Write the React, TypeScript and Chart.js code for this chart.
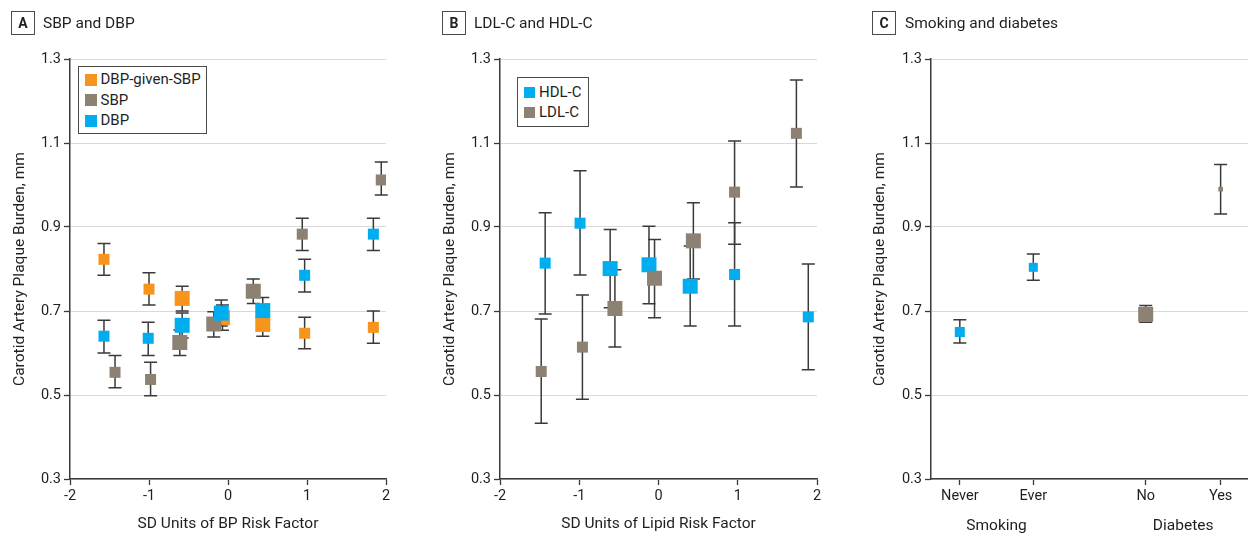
import React, { useEffect, useRef } from "react";
import { Chart, registerables } from "chart.js";

Chart.register(...registerables);

// ---------------- Shared axis values ----------------
const yTicks = [0.3, 0.5, 0.7, 0.9, 1.1, 1.3];
const sdTicks = [-2, -1, 0, 1, 2];
const yTitle = "Carotid Artery Plaque Burden, mm";

// ---------------- Panel A: SBP and DBP ----------------
const seriesNamesA = ["DBP-given-SBP", "SBP", "DBP"];

const dbpGivenSbpX = [-1.57, -1.0, -0.58, -0.07, 0.44, 0.97, 1.84];
const dbpGivenSbpY = [0.823, 0.752, 0.73, 0.684, 0.668, 0.647, 0.661];
const dbpGivenSbpLo = [0.785, 0.714, 0.7, 0.654, 0.64, 0.61, 0.623];
const dbpGivenSbpHi = [0.861, 0.791, 0.759, 0.714, 0.696, 0.685, 0.7];

const sbpX = [-1.43, -0.98, -0.61, -0.18, 0.32, 0.94, 1.94];
const sbpY = [0.554, 0.537, 0.625, 0.669, 0.747, 0.883, 1.012];
const sbpLo = [0.517, 0.498, 0.594, 0.638, 0.718, 0.844, 0.976];
const sbpHi = [0.594, 0.578, 0.655, 0.698, 0.776, 0.921, 1.055];

const dbpX = [-1.57, -1.01, -0.58, -0.085, 0.44, 0.97, 1.84];
const dbpY = [0.64, 0.635, 0.666, 0.695, 0.701, 0.785, 0.883];
const dbpLo = [0.6, 0.594, 0.636, 0.664, 0.67, 0.745, 0.844];
const dbpHi = [0.678, 0.673, 0.695, 0.726, 0.732, 0.823, 0.921];

// ---------------- Panel B: LDL-C and HDL-C ----------------
const seriesNamesB = ["HDL-C", "LDL-C"];

const hdlX = [-1.43, -0.99, -0.61, -0.12, 0.4, 0.96, 1.89];
const hdlY = [0.814, 0.909, 0.801, 0.81, 0.759, 0.787, 0.686];
const hdlLo = [0.693, 0.786, 0.708, 0.717, 0.664, 0.664, 0.56];
const hdlHi = [0.934, 1.034, 0.894, 0.902, 0.855, 0.91, 0.812];

const ldlX = [-1.48, -0.96, -0.55, -0.05, 0.44, 0.96, 1.74];
const ldlY = [0.556, 0.614, 0.706, 0.778, 0.867, 0.983, 1.123];
const ldlLo = [0.433, 0.49, 0.614, 0.684, 0.776, 0.859, 0.995];
const ldlHi = [0.681, 0.738, 0.798, 0.87, 0.958, 1.105, 1.25];

// ---------------- Panel C: Smoking and diabetes ----------------
const smokingLabels = ["Never", "Ever"];
const smokingValues = [0.65, 0.804];
const smokingLo = [0.624, 0.773];
const smokingHi = [0.679, 0.836];

const diabetesLabels = ["No", "Yes"];
const diabetesValues = [0.692, 0.99];
const diabetesLo = [0.673, 0.931];
const diabetesHi = [0.713, 1.049];

const groupLabels = ["Smoking", "Diabetes"];

// ---------------- Styles / layout (not data) ----------------
const FONT = "Roboto, 'Liberation Sans', Arial, sans-serif";
const TEXT = "#1f1f1f";
const AXIS = "#3a3a3a";
const GRID = "#d9d9d9";
const ORANGE = "#F7941D";
const TAUPE = "#8C8172";
const BLUE = "#00AEEF";

const S = 11; // small marker side (px)
const L = 15; // large marker side (px)
const sidesA = [S, S, L, L, L, S, S];
const sidesB = [S, S, L, L, L, S, S];
const sidesSmoking = [10, 9];
const sidesDiabetes = [15, 4.7];

// positions of the categories on panel C's numeric axis
const cCategoryPos = [0.4, 1.42, 2.98, 4.02];
const cGroupPos = [0.91, 3.5];

const errorBarPlugin = {
  id: "errorBars",
  beforeDatasetsDraw(chart: any) {
    const ctx = chart.ctx;
    const ys = chart.scales.y;
    chart.data.datasets.forEach((ds: any, i: number) => {
      if (!ds.errLo) return;
      const meta = chart.getDatasetMeta(i);
      ctx.save();
      ctx.strokeStyle = AXIS;
      ctx.lineWidth = 1.5;
      meta.data.forEach((pt: any, j: number) => {
        const px = pt.x;
        const yl = ys.getPixelForValue(ds.errLo[j]);
        const yh = ys.getPixelForValue(ds.errHi[j]);
        const cap = 6.5;
        ctx.beginPath();
        ctx.moveTo(px, yl);
        ctx.lineTo(px, yh);
        ctx.moveTo(px - cap, yl);
        ctx.lineTo(px + cap, yl);
        ctx.moveTo(px - cap, yh);
        ctx.lineTo(px + cap, yh);
        ctx.stroke();
      });
      ctx.restore();
    });
  },
};

function series(
  label: string,
  xs: number[],
  ys: number[],
  lo: number[],
  hi: number[],
  sides: number[],
  color: string,
  order: number
) {
  const radii = sides.map((s) => s / Math.SQRT2);
  return {
    label,
    data: xs.map((x, i) => ({ x, y: ys[i] })),
    errLo: lo,
    errHi: hi,
    pointStyle: "rect",
    pointRadius: radii,
    pointHoverRadius: radii,
    pointBackgroundColor: color,
    pointBorderColor: color,
    pointBorderWidth: 0,
    backgroundColor: color,
    borderColor: color,
    showLine: false,
    order,
  };
}

function yScale(width: number) {
  return {
    type: "linear",
    min: 0.3,
    max: 1.3,
    afterBuildTicks: (s: any) => {
      s.ticks = yTicks.map((v) => ({ value: v }));
    },
    afterFit: (s: any) => {
      s.width = width;
    },
    ticks: {
      callback: (v: any) => Number(v).toFixed(1),
      padding: 3,
      color: TEXT,
      font: { family: FONT, size: 14.5 },
    },
    grid: {
      color: GRID,
      lineWidth: 1,
      drawTicks: true,
      tickLength: 6,
      tickColor: AXIS,
      tickWidth: 1.3,
    },
    border: { display: true, color: AXIS, width: 1.5 },
    title: {
      display: true,
      text: yTitle,
      color: TEXT,
      font: { family: FONT, size: 15.5 },
      padding: { top: 11, bottom: 0 },
    },
  };
}

function sdXScale(title: string) {
  return {
    type: "linear",
    min: -2,
    max: 2,
    afterBuildTicks: (s: any) => {
      s.ticks = sdTicks.map((v) => ({ value: v }));
    },
    afterFit: (s: any) => {
      s.height = 57;
    },
    ticks: {
      callback: (v: any) => String(v),
      padding: 3,
      autoSkip: false,
      maxRotation: 0,
      color: TEXT,
      font: { family: FONT, size: 14.5 },
    },
    grid: {
      drawOnChartArea: false,
      drawTicks: true,
      tickLength: 6,
      tickColor: AXIS,
      tickWidth: 1.3,
    },
    border: { display: true, color: AXIS, width: 1.5 },
    title: {
      display: true,
      text: title,
      color: TEXT,
      font: { family: FONT, size: 15.5 },
      padding: { top: 0, bottom: 3 },
    },
  };
}

function baseOptions(padRight: number, scales: any) {
  return {
    responsive: false,
    animation: false,
    devicePixelRatio: 1,
    events: [],
    layout: { autoPadding: false, padding: { top: 59, right: padRight, bottom: 0, left: 0 } },
    plugins: { legend: { display: false }, tooltip: { enabled: false } },
    scales,
  };
}

function configA() {
  return {
    type: "scatter",
    data: {
      datasets: [
        series(seriesNamesA[0], dbpGivenSbpX, dbpGivenSbpY, dbpGivenSbpLo, dbpGivenSbpHi, sidesA, ORANGE, 2),
        series(seriesNamesA[1], sbpX, sbpY, sbpLo, sbpHi, sidesA, TAUPE, 1),
        series(seriesNamesA[2], dbpX, dbpY, dbpLo, dbpHi, sidesA, BLUE, 0),
      ],
    },
    options: baseOptions(34, {
      x: sdXScale("SD Units of BP Risk Factor"),
      y: yScale(70),
    }),
    plugins: [errorBarPlugin],
  };
}

function configB() {
  return {
    type: "scatter",
    data: {
      datasets: [
        series(seriesNamesB[0], hdlX, hdlY, hdlLo, hdlHi, sidesB, BLUE, 1),
        series(seriesNamesB[1], ldlX, ldlY, ldlLo, ldlHi, sidesB, TAUPE, 0),
      ],
    },
    options: baseOptions(33, {
      x: sdXScale("SD Units of Lipid Risk Factor"),
      y: yScale(70),
    }),
    plugins: [errorBarPlugin],
  };
}

function configC() {
  const catLabels = [...smokingLabels, ...diabetesLabels];
  return {
    type: "scatter",
    data: {
      datasets: [
        series(
          "Smoking",
          cCategoryPos.slice(0, 2),
          smokingValues,
          smokingLo,
          smokingHi,
          sidesSmoking,
          BLUE,
          0
        ),
        series(
          "Diabetes",
          cCategoryPos.slice(2, 4),
          diabetesValues,
          diabetesLo,
          diabetesHi,
          sidesDiabetes,
          TAUPE,
          1
        ),
      ],
    },
    options: baseOptions(0, {
      x: {
        type: "linear",
        min: 0,
        max: 4.4,
        weight: 0,
        afterBuildTicks: (s: any) => {
          s.ticks = cCategoryPos.map((v) => ({ value: v }));
        },
        afterFit: (s: any) => {
          s.height = 30;
          s.paddingLeft = 0;
          s.paddingRight = 0;
        },
        ticks: {
          callback: (_v: any, i: number) => catLabels[i],
          padding: 3,
          autoSkip: false,
          maxRotation: 0,
          color: TEXT,
          font: { family: FONT, size: 14.5 },
        },
        grid: {
          drawOnChartArea: false,
          drawTicks: true,
          tickLength: 6,
          tickColor: AXIS,
          tickWidth: 1.3,
        },
        border: { display: true, color: AXIS, width: 1.5 },
      },
      x2: {
        type: "linear",
        position: "bottom",
        min: 0,
        max: 4.4,
        weight: 1,
        afterBuildTicks: (s: any) => {
          s.ticks = cGroupPos.map((v) => ({ value: v }));
        },
        afterFit: (s: any) => {
          s.height = 27;
          s.paddingLeft = 0;
          s.paddingRight = 0;
        },
        ticks: {
          callback: (_v: any, i: number) => groupLabels[i],
          padding: 8,
          autoSkip: false,
          maxRotation: 0,
          color: TEXT,
          font: { family: FONT, size: 15.5 },
        },
        grid: { display: false, drawTicks: false },
        border: { display: false },
      },
      y: yScale(71),
    }),
    plugins: [errorBarPlugin],
  };
}

function ChartBox({ left, width, make }: { left: number; width: number; make: () => any }) {
  const ref = useRef<HTMLCanvasElement>(null);
  useEffect(() => {
    const chart = new Chart(ref.current as HTMLCanvasElement, make());
    return () => chart.destroy();
  }, []);
  return (
    <div style={{ position: "absolute", left, top: 0, width, height: 536 }}>
      <canvas ref={ref} width={width} height={536} style={{ display: "block", width, height: 536 }} />
    </div>
  );
}

function PanelTitle({ left, letter, text, gap }: { left: number; letter: string; text: string; gap: number }) {
  return (
    <>
      <div
        style={{
          position: "absolute",
          left,
          top: 11,
          width: 24,
          height: 24,
          boxSizing: "border-box",
          border: "1.5px solid #4a4a4a",
          display: "flex",
          alignItems: "center",
          justifyContent: "center",
          fontWeight: 700,
          fontSize: 14,
          lineHeight: 1,
        }}
      >
        {letter}
      </div>
      <div
        style={{
          position: "absolute",
          left: left + gap,
          top: 11,
          height: 24,
          display: "flex",
          alignItems: "center",
          fontSize: 15.5,
          whiteSpace: "nowrap",
        }}
      >
        {text}
      </div>
    </>
  );
}

function Legend({
  left,
  top,
  width,
  height,
  padTop,
  padLeft,
  rowH,
  sq,
  items,
}: {
  left: number;
  top: number;
  width: number;
  height: number;
  padTop: number;
  padLeft: number;
  rowH: number;
  sq: number;
  items: { label: string; color: string }[];
}) {
  return (
    <div
      style={{
        position: "absolute",
        left,
        top,
        width,
        height,
        boxSizing: "border-box",
        border: "1.5px solid #4a4a4a",
        paddingTop: padTop,
        paddingLeft: padLeft,
        background: "#fff",
      }}
    >
      {items.map((it) => (
        <div key={it.label} style={{ height: rowH, display: "flex", alignItems: "center" }}>
          <span style={{ width: sq, height: sq, background: it.color, marginRight: 4, flex: "none" }} />
          <span style={{ fontSize: 15, lineHeight: 1, whiteSpace: "nowrap" }}>{it.label}</span>
        </div>
      ))}
    </div>
  );
}

export default function App() {
  return (
    <div
      style={{
        position: "fixed",
        left: 0,
        top: 0,
        width: 1248,
        height: 536,
        background: "#fff",
        overflow: "hidden",
        fontFamily: FONT,
        color: TEXT,
      }}
    >
      <ChartBox left={0} width={420} make={configA} />
      <ChartBox left={430} width={420} make={configB} />
      <ChartBox left={860} width={388} make={configC} />

      <PanelTitle left={11} letter="A" text="SBP and DBP" gap={32} />
      <PanelTitle left={442} letter="B" text="LDL-C and HDL-C" gap={32} />
      <PanelTitle left={872} letter="C" text="Smoking and diabetes" gap={33} />

      <Legend
        left={78}
        top={66}
        width={129}
        height={68}
        padTop={2.3}
        padLeft={5.5}
        rowH={20.5}
        sq={12}
        items={[
          { label: seriesNamesA[0], color: ORANGE },
          { label: seriesNamesA[1], color: TAUPE },
          { label: seriesNamesA[2], color: BLUE },
        ]}
      />
      <Legend
        left={517}
        top={77}
        width={72}
        height={50}
        padTop={4.5}
        padLeft={6}
        rowH={20}
        sq={11}
        items={[
          { label: seriesNamesB[0], color: BLUE },
          { label: seriesNamesB[1], color: TAUPE },
        ]}
      />
    </div>
  );
}
